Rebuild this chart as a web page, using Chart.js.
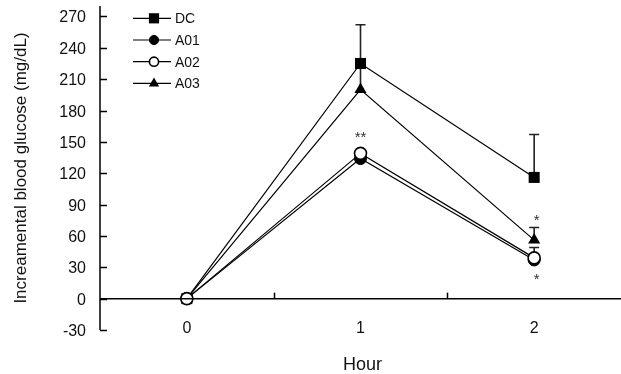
<!DOCTYPE html>
<html>
<head>
<meta charset="utf-8">
<script src="https://cdn.jsdelivr.net/npm/chart.js@4"></script>
<style>
  html, body { margin: 0; padding: 0; background: #fff; }
  #wrap { width: 621px; height: 374px; }
</style>
</head>
<body>
<div id="wrap"><canvas id="glucoseChart" width="621" height="374"></canvas></div>
<script>
/* ===== data ===== */
const hours = [0, 1, 2];
const seriesNames = ["DC", "A01", "A02", "A03"];
const dcValues = [0, 225, 116];
const a01Values = [0, 134, 37];
const a02Values = [0, 139, 39];
const a03Values = [0, 200, 56];
const dcErrors = [0, 37, 41];
const a01Errors = [0, 0, 12];
const a02Errors = [0, 0, 0];
const a03Errors = [0, 24, 12];
const yTicks = [-30, 0, 30, 60, 90, 120, 150, 180, 210, 240, 270];
const xTickMarks = [0.5, 1.5];
const starLabels = ["**", "*", "*"];
const starX = [1, 2.015, 2.015];
const starY = [157, 77, 21];

const FONT = "'Liberation Sans', Arial, sans-serif";

function toPoints(vals) {
  return hours.map((h, i) => ({ x: h, y: vals[i] }));
}

const styles = [
  { style: "rect", radius: 7.8, fill: "#000", border: 0, leg: 7.2 },
  { style: "circle", radius: 6, fill: "#000", border: 1, leg: 4.6 },
  { style: "circle", radius: 6, fill: "#fff", border: 1.6, leg: 4.6 },
  { style: "triangle", radius: 7, fill: "#000", border: 0, leg: 6 },
];
const allValues = [dcValues, a01Values, a02Values, a03Values];
const allErrors = [dcErrors, a01Errors, a02Errors, a03Errors];

const datasets = seriesNames.map((name, i) => ({
  label: name,
  data: toPoints(allValues[i]),
  borderColor: "#000",
  borderWidth: 1.2,
  pointStyle: styles[i].style,
  pointRadius: styles[i].radius,
  pointBackgroundColor: styles[i].fill,
  pointBorderColor: "#000",
  pointBorderWidth: styles[i].border,
  order: i === 2 ? 0 : i + 1,
  errors: allErrors[i],
}));

/* ===== error bars, behind the markers ===== */
const errorBars = {
  id: "errorBars",
  beforeDatasetsDraw(chart) {
    const { ctx } = chart;
    const xs = chart.scales.x, ys = chart.scales.y;
    ctx.save();
    ctx.strokeStyle = "#222";
    ctx.lineWidth = 1.6;
    chart.data.datasets.forEach((ds) => {
      ds.data.forEach((p, i) => {
        const e = ds.errors[i];
        if (!e) return;
        const px = xs.getPixelForValue(p.x);
        const y0 = ys.getPixelForValue(p.y);
        const y1 = ys.getPixelForValue(p.y + e);
        ctx.beginPath();
        ctx.moveTo(px, y0);
        ctx.lineTo(px, y1);
        ctx.moveTo(px - 5, y1);
        ctx.lineTo(px + 5, y1);
        ctx.stroke();
      });
    });
    ctx.restore();
  },
};

/* ===== axes, stars, legend, titles ===== */
const frame = {
  id: "frame",
  afterDatasetsDraw(chart) {
    const { ctx, chartArea } = chart;
    const xs = chart.scales.x, ys = chart.scales.y;
    const left = chartArea.left;
    const y0 = ys.getPixelForValue(0);
    ctx.save();
    ctx.strokeStyle = "#000";
    ctx.fillStyle = "#111";
    ctx.lineWidth = 1.5;

    // y axis
    ctx.beginPath();
    ctx.moveTo(left, chartArea.top);
    ctx.lineTo(left, ys.getPixelForValue(-30));
    ctx.stroke();
    ctx.font = "16px " + FONT;
    ctx.textAlign = "right";
    ctx.textBaseline = "middle";
    yTicks.forEach((t) => {
      const py = Math.round(ys.getPixelForValue(t)) + 0.5;
      ctx.beginPath();
      ctx.moveTo(left, py);
      ctx.lineTo(left + 7, py);
      ctx.stroke();
      ctx.fillText(String(t), 86, py + 1);
    });

    // x axis at y = 0
    ctx.beginPath();
    ctx.moveTo(left, y0);
    ctx.lineTo(chartArea.right, y0);
    ctx.stroke();
    xTickMarks.forEach((t) => {
      const px = Math.round(xs.getPixelForValue(t)) + 0.5;
      ctx.beginPath();
      ctx.moveTo(px, y0);
      ctx.lineTo(px, y0 - 6);
      ctx.stroke();
    });
    ctx.textAlign = "center";
    hours.forEach((h) => {
      ctx.fillText(String(h), xs.getPixelForValue(h), 329);
    });

    // titles
    ctx.font = "18px " + FONT;
    ctx.textBaseline = "alphabetic";
    ctx.fillText("Hour", (left + chartArea.right) / 2 + 2, 370);
    ctx.save();
    ctx.font = "17px " + FONT;
    ctx.translate(26, 168);
    ctx.rotate(-Math.PI / 2);
    ctx.textBaseline = "alphabetic";
    ctx.fillText("Increamental blood glucose (mg/dL)", 0, 0);
    ctx.restore();

    // significance stars
    ctx.font = "15px " + FONT;
    ctx.fillStyle = "#333";
    ctx.textBaseline = "middle";
    starLabels.forEach((s, i) => {
      ctx.fillText(s, xs.getPixelForValue(starX[i]), ys.getPixelForValue(starY[i]) + 3);
    });

    // legend
    ctx.font = "14px " + FONT;
    ctx.textAlign = "left";
    ctx.fillStyle = "#111";
    ctx.lineWidth = 1.2;
    seriesNames.forEach((name, i) => {
      const ly = 18.3 + i * 21.7;
      ctx.strokeStyle = "#000";
      ctx.beginPath();
      ctx.moveTo(133, ly);
      ctx.lineTo(171, ly);
      ctx.stroke();
      const st = styles[i];
      ctx.save();
      ctx.fillStyle = st.fill;
      ctx.strokeStyle = "#000";
      ctx.lineWidth = st.border || 1;
      Chart.helpers.drawPoint(ctx, { pointStyle: st.style, radius: st.leg, rotation: 0, borderWidth: st.border }, 154, ly);
      ctx.restore();
      ctx.fillText(name, 175, ly + 1);
    });
    ctx.restore();
  },
};

new Chart(document.getElementById("glucoseChart"), {
  type: "line",
  data: { datasets },
  options: {
    responsive: false,
    animation: false,
    layout: { autoPadding: false, padding: { left: 100, right: 0, top: 6, bottom: 44 } },
    plugins: { legend: { display: false }, tooltip: { enabled: false } },
    scales: {
      x: { type: "linear", min: -0.5, max: 2.5, display: false },
      y: { type: "linear", min: -30, max: 280, display: false },
    },
  },
  plugins: [errorBars, frame],
});
</script>
</body>
</html>
